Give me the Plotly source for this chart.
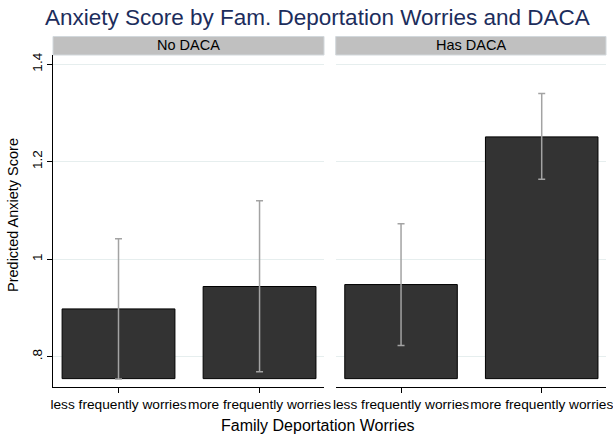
import plotly.graph_objects as go

# Predicted anxiety scores (marginal means with 95% CIs)
worry_levels = ["less frequently worries", "more frequently worries"]
panels = ["No DACA", "Has DACA"]

no_daca_mean = [0.898, 0.944]
no_daca_lo = [0.754, 0.769]
no_daca_hi = [1.042, 1.120]

has_daca_mean = [0.948, 1.251]
has_daca_lo = [0.823, 1.164]
has_daca_hi = [1.073, 1.340]

y_ticks = [0.8, 1.0, 1.2, 1.4]
y_ticktext = [".8", "1", "1.2", "1.4"]

W, H = 613, 436
FONT = "Liberation Sans, Arial, Helvetica, sans-serif"
BAR_FILL = "#333333"
CI_COLOR = "#a3a3a3"
GRID = "#e6eeee"
BAR_BASE = 0.755


def px_x(p):
    return p / W


def px_y(p):
    return 1 - p / H


fig = go.Figure()

series = [
    (no_daca_mean, no_daca_lo, no_daca_hi, "x", "y"),
    (has_daca_mean, has_daca_lo, has_daca_hi, "x2", "y2"),
]
for mean, lo, hi, xa, ya in series:
    fig.add_trace(go.Bar(
        x=[0, 1],
        y=[m - BAR_BASE for m in mean],
        base=BAR_BASE,
        width=0.8,
        marker=dict(color=BAR_FILL, line=dict(color="#000000", width=1)),
        xaxis=xa, yaxis=ya,
        showlegend=False,
        hoverinfo="skip",
    ))
    fig.add_trace(go.Scatter(
        x=[0, 1],
        y=mean,
        mode="markers",
        marker=dict(size=0.1, color="rgba(0,0,0,0)"),
        error_y=dict(
            type="data",
            symmetric=False,
            array=[h - m for h, m in zip(hi, mean)],
            arrayminus=[m - l for m, l in zip(mean, lo)],
            color=CI_COLOR,
            thickness=1.5,
            width=3.5,
        ),
        xaxis=xa, yaxis=ya,
        showlegend=False,
        hoverinfo="skip",
    ))

left_dom = [px_x(53), px_x(324)]
right_dom = [px_x(335.7), px_x(606)]
y_dom = [px_y(387), px_y(55)]
y_range = [0.7378, 1.419]

xcommon = dict(
    range=[-0.4645, 1.457],
    tickvals=[0, 1],
    ticktext=worry_levels,
    tickangle=0,
    automargin=False,
    ticklabeloverflow="allow",
    ticks="outside",
    ticklen=5,
    tickcolor="#000000",
    tickwidth=1,
    showline=True,
    linecolor="#000000",
    linewidth=1,
    showgrid=False,
    zeroline=False,
    tickfont=dict(family=FONT, size=13.7, color="#000000"),
    fixedrange=True,
)
ycommon = dict(
    range=y_range,
    tickvals=y_ticks,
    showgrid=True,
    gridcolor=GRID,
    gridwidth=1,
    zeroline=False,
    domain=y_dom,
    automargin=False,
    fixedrange=True,
)

fig.update_layout(
    width=W,
    height=H,
    autosize=False,
    margin=dict(l=0, r=0, t=0, b=0, pad=0),
    paper_bgcolor="#ffffff",
    plot_bgcolor="#ffffff",
    xaxis=dict(domain=left_dom, anchor="y", **xcommon),
    xaxis2=dict(domain=right_dom, anchor="y2", **xcommon),
    yaxis=dict(
        anchor="x",
        ticktext=y_ticktext,
        ticks="outside",
        ticklen=5,
        tickcolor="#000000",
        tickangle=-90,
        showline=True,
        linecolor="#000000",
        linewidth=1,
        tickfont=dict(family=FONT, size=13.5, color="#000000"),
        **ycommon,
    ),
    yaxis2=dict(
        anchor="x2",
        showticklabels=False,
        ticks="",
        showline=False,
        **ycommon,
    ),
)

# Panel header strips
for label, (x0, x1) in zip(panels, [(53, 324), (335.7, 606)]):
    fig.add_shape(
        type="rect", xref="paper", yref="paper",
        x0=px_x(x0), x1=px_x(x1), y0=px_y(55), y1=px_y(36.5),
        fillcolor="#c0c0c0", line=dict(color="#d2d8dc", width=1),
        layer="below",
    )
    fig.add_annotation(
        text=label, xref="paper", yref="paper",
        x=px_x((x0 + x1) / 2), y=px_y(45.5),
        showarrow=False, xanchor="center", yanchor="middle",
        font=dict(family=FONT, size=14.5, color="#000000"),
    )

# Chart title
fig.add_annotation(
    text="Anxiety Score by Fam. Deportation Worries and DACA",
    xref="paper", yref="paper", x=px_x(317), y=px_y(18),
    showarrow=False, xanchor="center", yanchor="middle",
    font=dict(family=FONT, size=22.5, color="#1c2d5c"),
)

# Axis titles
fig.add_annotation(
    text="Family Deportation Worries",
    xref="paper", yref="paper", x=px_x(318), y=px_y(425),
    showarrow=False, xanchor="center", yanchor="middle",
    font=dict(family=FONT, size=16, color="#000000"),
)
fig.add_annotation(
    text="Predicted Anxiety Score",
    xref="paper", yref="paper", x=px_x(13), y=px_y(215),
    showarrow=False, xanchor="center", yanchor="middle", textangle=-90,
    font=dict(family=FONT, size=14.5, color="#000000"),
)

fig.write_html("out.html")
